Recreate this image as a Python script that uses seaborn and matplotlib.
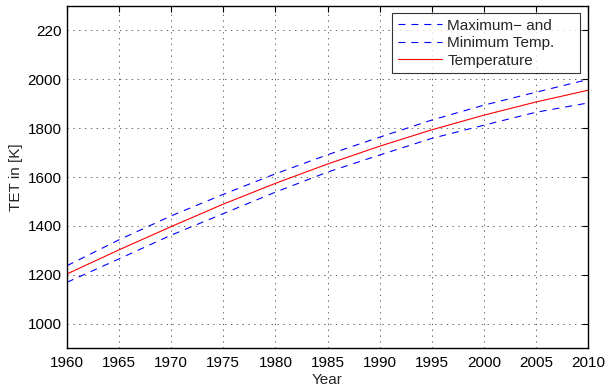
import matplotlib
matplotlib.use("Agg")
import matplotlib.pyplot as plt
import seaborn as sns
import numpy as np

years = [1960, 1965, 1970, 1975, 1980, 1985, 1990, 1995, 2000, 2005, 2010]
temp = [1203, 1302, 1397, 1489, 1574, 1653, 1726, 1793, 1853, 1907, 1955]
temp_max = [1237, 1343, 1441, 1529, 1613, 1691, 1763, 1833, 1894, 1947, 1999]
temp_min = [1169, 1265, 1362, 1450, 1538, 1620, 1690, 1758, 1812, 1865, 1903]
ytick_vals = [1000, 1200, 1400, 1600, 1800, 2000, 2200]
ytick_labels = ["1000", "1200", "1400", "1600", "1800", "2000", "220"]
xtick_vals = [1960, 1965, 1970, 1975, 1980, 1985, 1990, 1995, 2000, 2005, 2010]

sns.set_style("white")
plt.rcParams['font.family'] = ['Liberation Sans', 'DejaVu Sans']
plt.rcParams['lines.scale_dashes'] = False

fig = plt.figure(figsize=(6.05, 3.88), dpi=100)
L, R, T, B = 67, 588, 6, 348
ax = fig.add_axes([L/605, 1-B/388, (R-L)/605, (B-T)/388])

dash = (0, (5.0, 4.3))
sns.lineplot(x=years, y=temp_max, ax=ax, color="#0000ff", lw=0.8, linestyle=dash, label="Maximum\u2212 and")
sns.lineplot(x=years, y=temp_min, ax=ax, color="#0000ff", lw=0.8, linestyle=dash, label="Minimum Temp.")
sns.lineplot(x=years, y=temp, ax=ax, color="#ff0000", lw=0.8, label="Temperature")

ax.set_xlim(1960, 2010)
ax.set_ylim(900, 2300)
ax.set_xticks(xtick_vals)
ax.set_xticklabels([str(v) for v in xtick_vals])
ax.set_yticks(ytick_vals)
ax.set_yticklabels(ytick_labels)
ax.tick_params(direction="in", length=4, width=0.8, top=True, right=True,
               labelsize=11, colors="black")
ax.tick_params(axis="x", pad=6)
ax.tick_params(axis="y", pad=4)
ax.grid(True, linestyle=(0, (1, 3.2)), color="0.3", lw=0.6)
for s in ax.spines.values():
    s.set_color("black")
    s.set_linewidth(1.0)
    s.set_visible(True)

ax.set_xlabel("Year", fontsize=11, labelpad=2)
ax.set_ylabel("TET in [K]", fontsize=11, labelpad=3)

# legend box in axes coordinates
lx0 = (392 - L) / (R - L)
lx1 = (580 - L) / (R - L)
ly1 = (B - 13) / (B - T)
ly0 = (B - 73) / (B - T)
leg = ax.legend(loc="upper left", bbox_to_anchor=(lx0, ly0, lx1 - lx0, ly1 - ly0),
                mode="expand", frameon=True, fancybox=False,
                fontsize=11, handlelength=2.9, handletextpad=0.35, borderpad=0.38,
                labelspacing=0.22, borderaxespad=0)
leg.get_frame().set_edgecolor("black")
leg.get_frame().set_linewidth(0.8)

fig.savefig("out.png", dpi=100)
